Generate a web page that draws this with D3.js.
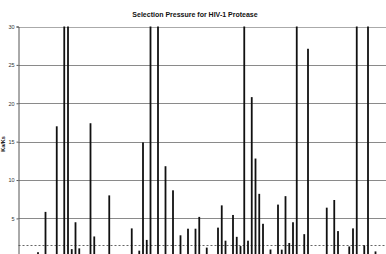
<!DOCTYPE html>
<html>
<head>
<meta charset="utf-8">
<script src="https://cdn.jsdelivr.net/npm/d3@7"></script>
<style>
  body { margin: 0; background: #fff; }
  svg { display: block; font-family: "Liberation Sans", Arial, sans-serif; }
</style>
</head>
<body>
<div id="vis"></div>
<script>
// codon positions and Ka/Ks values (off-scale bars drawn at 30)
const positions = [5, 7, 10, 12, 13, 14, 15, 16, 19, 20, 24, 30, 32, 33, 34, 35, 37, 39, 41, 43,
  45, 47, 48, 50, 53, 54, 55, 57, 58, 59, 60, 61, 62, 63, 64, 65, 67, 69, 70, 71,
  72, 73, 74, 76, 77, 82, 84, 85, 88, 89, 90, 92, 93, 95];
const kaks = [0.6, 5.85, 17.0, 30, 30, 1.0, 4.5, 1.1, 17.4, 2.65, 8.0, 3.7, 0.8, 14.9, 2.2, 30, 30, 11.8, 8.66, 2.8,
  3.66, 3.66, 5.2, 1.2, 3.8, 6.7, 2.1, 5.45, 2.6, 1.4, 30, 2.1, 20.8, 12.8, 8.2, 4.3, 0.95, 6.8, 0.93, 7.9,
  1.8, 4.5, 30, 2.95, 27.1, 6.4, 7.4, 3.35, 1.35, 3.7, 30, 1.5, 30, 0.7];
const yTicks = [0, 5, 10, 15, 20, 25, 30];
const threshold = 1.6;

const W = 386, H = 254;
const left = 18.5;

const svg = d3.select('#vis').append('svg')
  .attr('width', W).attr('height', H)
  .attr('viewBox', `0 0 ${W} ${H}`);

const x = d3.scaleLinear().domain([0, 100]).range([19.25, 394.25]);
const y = d3.scaleLinear().domain([0, 30]).range([256.8, 26.5]);

// grid
svg.append('g').selectAll('line')
  .data(yTicks.filter(d => d > 0))
  .enter().append('line')
  .attr('x1', left).attr('x2', W)
  .attr('y1', d => Math.round(y(d)) + 0.5).attr('y2', d => Math.round(y(d)) + 0.5)
  .attr('stroke', d => d === 30 ? '#aaa' : '#8a8a8a')
  .attr('stroke-width', 1);

// threshold line
svg.append('line')
  .attr('x1', left).attr('x2', W)
  .attr('y1', Math.round(y(threshold)) + 0.5).attr('y2', Math.round(y(threshold)) + 0.5)
  .attr('stroke', '#666').attr('stroke-dasharray', '2,2');

// bars
svg.append('g').selectAll('rect')
  .data(positions.map((p, i) => ({ pos: p, v: kaks[i] })))
  .enter().append('rect')
  .attr('x', d => x(d.pos) - 0.9)
  .attr('width', 1.8)
  .attr('y', d => y(Math.min(d.v, 30)))
  .attr('height', d => y(0) - y(Math.min(d.v, 30)))
  .attr('fill', '#111');

// y axis
const gY = svg.append('g')
  .attr('transform', `translate(${left},0)`)
  .call(d3.axisLeft(y).tickValues(yTicks).tickSize(2).tickPadding(2));
gY.select('.domain').attr('stroke', '#555');
gY.selectAll('.tick line').attr('stroke', '#555');
gY.selectAll('.tick text')
  .attr('font-size', 5.5).attr('fill', '#333')
  .attr('font-family', '"Liberation Sans", Arial, sans-serif');

// axis title
svg.append('text')
  .attr('transform', `translate(5,144) rotate(-90)`)
  .attr('text-anchor', 'middle')
  .attr('font-size', 5.5).attr('font-weight', 'bold').attr('fill', '#222')
  .text('Ka/Ks');

// chart title
svg.append('text')
  .attr('x', 195).attr('y', 17.3)
  .attr('text-anchor', 'middle')
  .attr('font-size', 7).attr('font-weight', 'bold').attr('fill', '#111')
  .text('Selection Pressure for HIV-1 Protease');
</script>
</body>
</html>
